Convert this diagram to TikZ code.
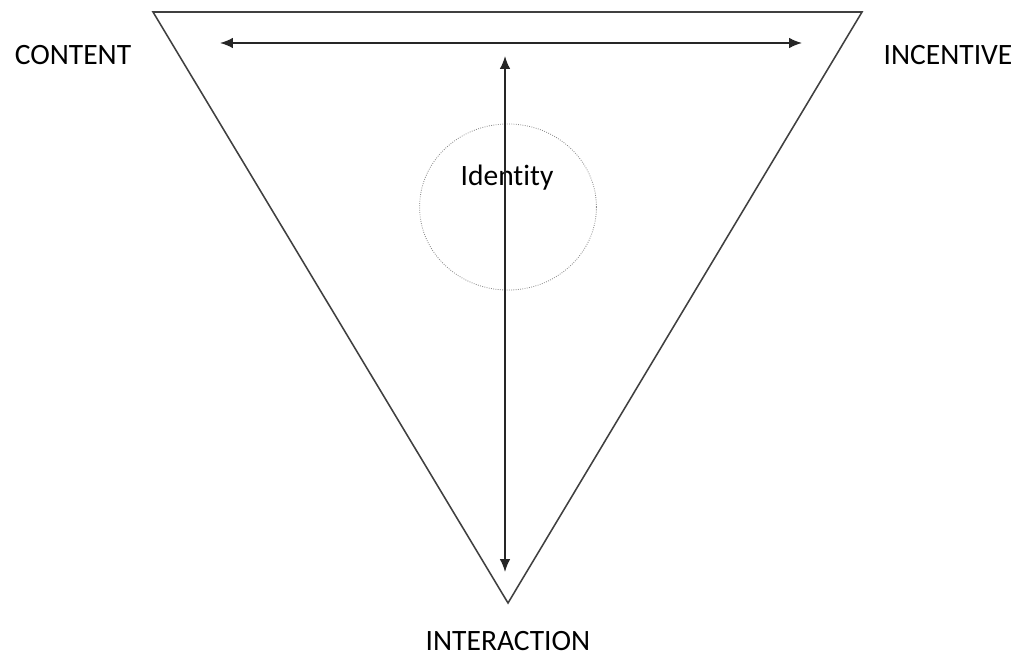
\documentclass[tikz,border=0pt]{standalone}
\usepackage{fontspec}
\setmainfont{Carlito}[Ligatures={NoCommon}]
\usetikzlibrary{arrows.meta,positioning,shapes.geometric}

\begin{document}
\begin{tikzpicture}[>=Latex,x=0.025cm,y=-0.025cm]
\useasboundingbox (0,0) rectangle (1024,657);
\coordinate (tl) at (153,12);
\coordinate (tr) at (862,12);
\coordinate (bt) at (508,603);
\draw[black!75,line width=1.1pt,line join=miter] (tl)--(tr)--(bt)--cycle;
\node[draw=black!45,densely dotted,line width=0.6pt,ellipse,minimum width=4.42cm,minimum height=4.15cm] (id) at (508,207) {};
\node[font=\fontsize{21}{25}\selectfont,inner sep=0pt] (idl) at (507,178) {Identity};
\coordinate (hl) at (220,43);
\coordinate (hr) at (802,43);
\coordinate (vt) at (505,56);
\coordinate (vb) at (505,572);
\draw[{Latex[length=3.2mm,width=2.6mm]}-{Latex[length=3.2mm,width=2.6mm]},black!85,line width=1.1pt] (hl)--(hr);
\draw[{Latex[length=3.2mm,width=2.6mm]}-{Latex[length=3.2mm,width=2.6mm]},black!85,line width=1.1pt] (vt)--(vb);
\node[font=\fontsize{21}{25}\selectfont,inner sep=0pt] (ct) at (73,55) {CONTENT};
\node[font=\fontsize{21}{25}\selectfont,inner sep=0pt] (ic) at (948,55) {INCENTIVE};
\node[font=\fontsize{21}{25}\selectfont,inner sep=0pt] (ia) at (508,641) {INTERACTION};
\end{tikzpicture}
\end{document}
